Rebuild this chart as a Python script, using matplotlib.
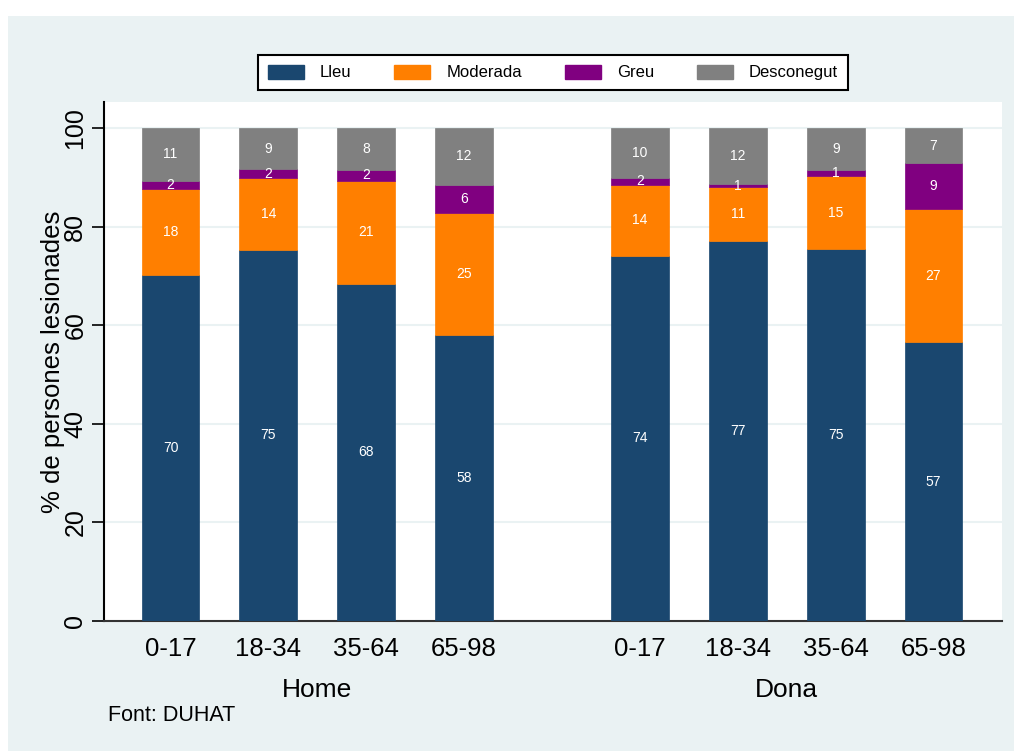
import matplotlib
matplotlib.use("Agg")
import matplotlib.pyplot as plt
from matplotlib.patches import Rectangle, Patch
import matplotlib.transforms as mtransforms
import numpy as np

plt.rcParams['font.family'] = ['Liberation Sans', 'DejaVu Sans']

# ---- data ----
age_groups = ["0-17", "18-34", "35-64", "65-98", "0-17", "18-34", "35-64", "65-98"]
sexes = ["Home", "Dona"]
series_names = ["Lleu", "Moderada", "Greu", "Desconegut"]

lleu = [70.1, 75.3, 68.4, 57.9, 74.1, 77.1, 75.4, 56.5]
moderada = [17.5, 14.6, 20.9, 24.9, 14.4, 10.9, 14.9, 27.1]
greu = [1.7, 1.7, 2.2, 5.7, 1.4, 0.6, 1.2, 9.3]
desconegut = [10.7, 8.4, 8.5, 11.5, 10.1, 11.4, 8.5, 7.1]

lleu_lbl = [70, 75, 68, 58, 74, 77, 75, 57]
moderada_lbl = [18, 14, 21, 25, 14, 11, 15, 27]
greu_lbl = [2, 2, 2, 6, 2, 1, 1, 9]
desconegut_lbl = [11, 9, 8, 12, 10, 12, 9, 7]

# ---- styling ----
colors = ["#1A476F", "#FF7F00", "#800080", "#808080"]
bg = "#EAF2F3"

fig = plt.figure(figsize=(10.14, 7.51), dpi=100)
fig.patch.set_facecolor("white")
fig.add_artist(Rectangle((8 / 1014, 0), 1 - 8 / 1014, (751 - 16) / 751,
                         transform=fig.transFigure, facecolor=bg,
                         edgecolor="none", zorder=-10))

ax = fig.add_axes([104 / 1014, 1 - 620.7 / 751, (1002 - 104) / 1014, (620.7 - 102) / 751])
ax.set_facecolor("white")

x = np.array([0, 1, 2, 3, 4.8, 5.8, 6.8, 7.8])
width = 0.59

series = [lleu, moderada, greu, desconegut]
labels = [lleu_lbl, moderada_lbl, greu_lbl, desconegut_lbl]
bottom = np.zeros(len(x))
for vals, lbls, col, name in zip(series, labels, colors, series_names):
    vals = np.array(vals)
    ax.bar(x, vals, width, bottom=bottom, color=col, edgecolor=col,
           linewidth=0.5, label=name, zorder=3)
    for xi, b, v, l in zip(x, bottom, vals, lbls):
        ax.text(xi, b + v / 2, str(l), ha="center", va="center",
                color="white", fontsize=10, zorder=4)
    bottom = bottom + vals

ax.set_xlim(-0.68, 8.50)
ax.set_ylim(0, 105.3)
ax.set_yticks([0, 20, 40, 60, 80, 100])
ax.set_yticklabels(["0", "20", "40", "60", "80", "100"], rotation=90, va="center")
ax.tick_params(axis="y", length=9, width=1.2, pad=3, labelsize=18, color="black")
ax.set_xticks(x)
ax.set_xticklabels(age_groups)
ax.tick_params(axis="x", length=0, pad=12, labelsize=18.5)

for yv in [20, 40, 60, 80, 100]:
    ax.axhline(yv, color=bg, linewidth=1.5, zorder=1)

for s in ["top", "right"]:
    ax.spines[s].set_visible(False)
ax.spines["left"].set_linewidth(1.5)
ax.spines["bottom"].set_linewidth(1.5)
ax.spines["bottom"].set_color("#333333")

ax.set_ylabel("% de persones lesionades", fontsize=18.5, labelpad=-1)

# group labels
trans = mtransforms.blended_transform_factory(ax.transData, fig.transFigure)
for i, sx in enumerate(sexes):
    cx = x[i * 4:(i + 1) * 4].mean()
    ax.text(cx, 1 - 690 / 751, sx, transform=trans,
            ha="center", va="center", fontsize=19)

fig.text(108 / 1014, 1 - 715.5 / 751, "Font: DUHAT", ha="left", va="center", fontsize=15.5)

handles = [Patch(facecolor=c, edgecolor=c) for c in colors]
leg = fig.legend(handles, series_names, loc="center",
                 bbox_to_anchor=(553 / 1014, 1 - 72.5 / 751), ncol=4,
                 fontsize=12, frameon=True, fancybox=False, framealpha=1,
                 edgecolor="black", handlelength=2.15, handleheight=0.95,
                 handletextpad=0.95, columnspacing=2.6, borderpad=0.6)
leg.get_frame().set_linewidth(1.5)

fig.savefig("out.png", dpi=100)
